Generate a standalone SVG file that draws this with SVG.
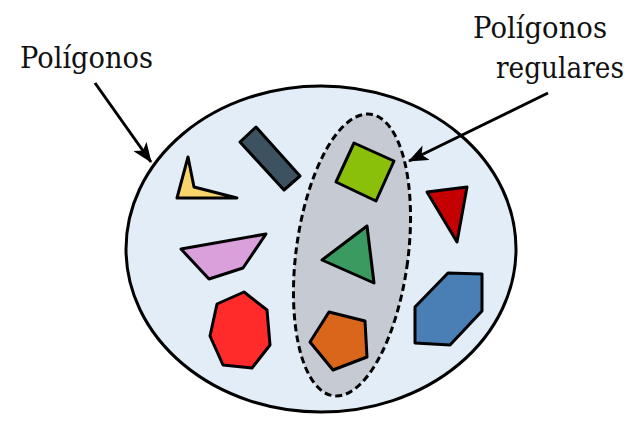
<svg xmlns="http://www.w3.org/2000/svg" width="640" height="423" viewBox="0 0 640 423">
<defs>
<style>
.lbl{font-family:"DejaVu Serif",serif;font-size:29px;fill:#111}
.sh{stroke:#000;stroke-width:3;stroke-linejoin:round}
.arr{stroke:#000;stroke-width:3;fill:none}
</style>
<marker id="ah" markerWidth="20" markerHeight="16" viewBox="0 0 20 16" refX="19" refY="8" orient="auto" markerUnits="userSpaceOnUse">
<path d="M0,0 L20,8 L0,16 L5,8 Z" fill="#000"/>
</marker>
</defs>
<rect width="640" height="423" fill="#fff"/>
<g id="polygons-set">
<ellipse cx="321" cy="249" rx="195" ry="163" fill="#e3edf8" stroke="#000" stroke-width="3"/>
</g>
<g id="regular-set">
<ellipse cx="0" cy="0" rx="56" ry="142" transform="translate(352,255) rotate(7.5)" fill="#c5cad3" stroke="#000" stroke-width="3" stroke-dasharray="7,4"/>
</g>
<g id="yellow"><polygon class="sh" points="188,157 194,187 237,198 177,198" fill="#f8d56a"/></g>
<g id="darkrect"><polygon class="sh" points="240,142 256,127 300,176 284,190" fill="#3d5260"/></g>
<g id="square"><polygon class="sh" points="354,143 394,161 376,201 336,182" fill="#8abf0a"/></g>
<g id="greentri"><polygon class="sh" points="367,226 322,260 374,283" fill="#3a9a60"/></g>
<g id="pentagon"><polygon class="sh" points="329,312 365,321 367,357 333,370 310,342" fill="#d9661a"/></g>
<g id="redtri"><polygon class="sh" points="427,192 467,187 457,242" fill="#c40000"/></g>
<g id="hexagon"><polygon class="sh" points="448,273 482,274 482,311 450,345 415,343 415,307" fill="#4a7fb5"/></g>
<g id="trapezoid"><polygon class="sh" points="181,249 266,234 243,268 209,279" fill="#d9a0dc"/></g>
<g id="octagon"><polygon class="sh" points="244,292 267,310 270,345 252,368 223,365 210,336 217,304" fill="#ff2a2a"/></g>
<g id="connectors">
<line class="arr" x1="95" y1="83" x2="151" y2="162" marker-end="url(#ah)"/>
<line class="arr" x1="548" y1="93" x2="409" y2="161" marker-end="url(#ah)"/>
</g>
<g id="labels">
<text class="lbl" x="20" y="68" textLength="133" lengthAdjust="spacingAndGlyphs">Polígonos</text>
<text class="lbl" x="473" y="38" textLength="134" lengthAdjust="spacingAndGlyphs">Polígonos</text>
<text class="lbl" x="496" y="78" textLength="128" lengthAdjust="spacingAndGlyphs">regulares</text>
</g>
</svg>
